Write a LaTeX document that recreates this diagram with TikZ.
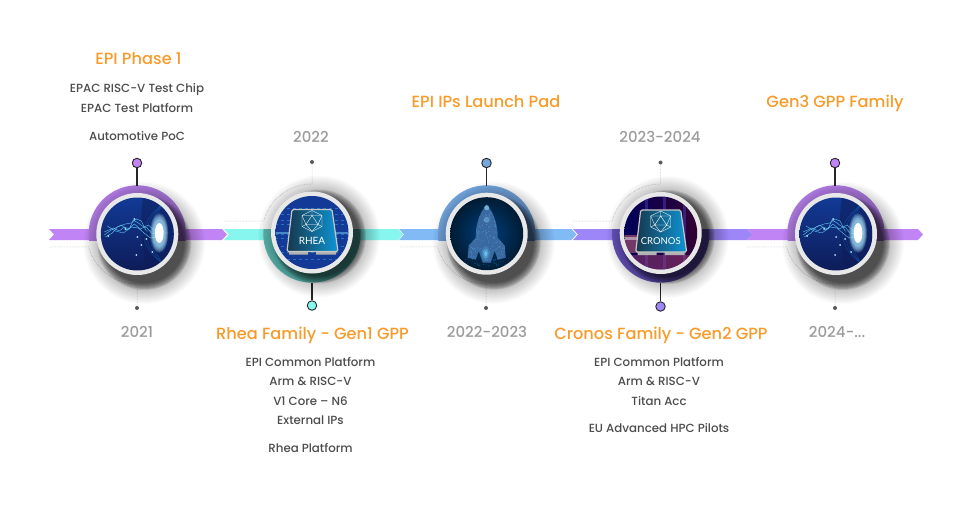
\documentclass[tikz,border=0pt]{standalone}
\usepackage{fontspec}
\setmainfont{Poppins}
\newfontfamily\titlefont{Poppins Medium}
\newfontfamily\chipfont{Lato}
\usepackage{tikz}
\usetikzlibrary{positioning}
\definecolor{Notetitle}{HTML}{F99B2A}
\definecolor{Notebody}{HTML}{4C4C4C}
\definecolor{Noteyear}{HTML}{9C9C9C}
\definecolor{Ribpurple}{HTML}{C184F5}
\definecolor{Ribcyan}{HTML}{86F6EF}
\definecolor{Ribblue}{HTML}{82BAF6}
\definecolor{Ribviolet}{HTML}{9D86F7}
\definecolor{Arcpurple}{HTML}{B27BE6}
\definecolor{Arcteal}{HTML}{62BDB6}
\definecolor{Arcblue}{HTML}{73A8E2}
\definecolor{Arcviolet}{HTML}{6C5BBE}
\definecolor{Chipdark}{HTML}{16384C}
\definecolor{Chipblue}{HTML}{0E95D6}
\definecolor{Wiretop}{HTML}{123A96}
\definecolor{Wiremid}{HTML}{1664D8}
\definecolor{Wirelow}{HTML}{0E1C58}
\tikzstyle{titletext} = [font=\titlefont\fontsize{16.2}{16}\selectfont, text=Notetitle, text height=13pt, text depth=1pt, inner sep=0pt]
\tikzstyle{bodytext} = [font=\titlefont\fontsize{11.8}{12}\selectfont, text=Notebody, text height=11pt, text depth=1.5pt, inner sep=0pt]
\tikzstyle{yeartext} = [font=\titlefont\fontsize{15}{15}\selectfont, text=Noteyear, text height=13pt, text depth=2pt, inner sep=0pt]
\tikzstyle{pindot} = [circle, draw=black!85, line width=0.9pt, minimum size=9.5pt, inner sep=0pt]
\tikzstyle{yeardot} = [circle, fill=black!65, minimum size=4pt, inner sep=0pt]
\tikzstyle{pinline} = [line width=1.1pt, black!85]
\tikzstyle{guide} = [black!30, line width=0.5pt, densely dotted]
\tikzstyle{hubring} = [circle, fill=black!9, minimum size=82pt, inner sep=0pt]
\tikzstyle{spark} = [white!40!cyan, line width=0.45pt, opacity=0.9]
% ribbon piece: from, to, colour
\newcommand{\ribbon}[3]{
    \fill[#3] (#1,229) -- (#2-5,229) -- (#2,234.5) -- (#2-5,240) -- (#1,240) -- (#1+5,234.5) -- cycle;
}
% coloured half disc behind a hub: x, colour, clip band
\newcommand{\hubarc}[4]{
    \begin{scope}
        \clip (#1-60,#3) rectangle (#1+60,#4);
        \fill[#2] (#1,234) circle (48.7);
    \end{scope}
}
% soft shadow of a hub
\newcommand{\hubshadow}[2]{
    \foreach \r in {46,47,...,61} {
        \fill[black, opacity=0.014] (#1,#2) circle (\r);
    }
    \foreach \r in {40,41,...,47} {
        \fill[black, opacity=0.1] (#1,#2) circle (\r);
    }
}
% circuit picture in a hub
\newcommand{\circuitimage}[2]{
    \begin{scope}[shift={(#1,#2)}]
        \clip (0,0) circle (36.5);
        \shade[top color=Wiretop, middle color=Wiremid, bottom color=Wirelow] (-37,-37) rectangle (37,37);
        \fill[Wirelow, opacity=0.5] (6,-37) .. controls (2,-15) and (4,15) .. (10,37) -- (37,37) -- (37,-37) -- cycle;
        \foreach \r in {14,18,22,26} {
            \draw[cyan!60!blue, opacity=0.5, line width=0.3pt] (26,-30) .. controls (26-\r,-12) and (26-\r,12) .. (26,30);
        }
        % lightning
        \draw[spark] (-33,-2) -- (-24,-6) -- (-18,-3) -- (-13,-7) -- (-8,-5) -- (-4,-14) -- (1,-11) -- (5,-8) -- (10,-6) -- (14,-1) -- (20,0);
        \draw[spark] (-32,3) -- (-25,-1) -- (-20,-7) -- (-12,-10) -- (-6,-11) -- (-1,-15) -- (4,-13) -- (9,-3) -- (20,-3);
        \draw[spark] (-30,-8) -- (-22,-3) -- (-14,-1) -- (-6,-7) -- (1,-6) -- (8,0) -- (13,4) -- (20,3);
        \draw[spark] (-33,1) -- (-26,-4) -- (-16,-9) -- (-10,-4) -- (-3,-10) -- (3,-5) -- (11,-9) -- (20,-1);
        \foreach \px/\py in {-12/-5, 0/3, -29/2, 9/5, -1/21, 4/11, -3/-15, 15/18} {
            \fill[cyan!30!white] (\px,\py) circle (1);
        }
        % glow
        \foreach \s in {1.8,1.7,...,1.1} {
            \fill[cyan!35!white, opacity=0.2] (22,-1) circle[x radius=5*\s, y radius=11*\s];
        }
        \fill[white] (22,-1) circle[x radius=4.4, y radius=10];
    \end{scope}
}
% chip card with its icon and label
\newcommand{\chipcard}[3]{
    \begin{scope}[shift={(#1,#2)}]
        \fill[black!30] (-23,18) rectangle (-4,22) (4,18) rectangle (24,22);
        \shade[shading angle=45, left color=Chipdark, right color=Chipblue, rounded corners=1.5pt, draw=black!22, line width=1.2pt]
            (-20,-23) -- (20,-23) -- (26,19) -- (-25,19) -- cycle;
        \draw[white!70, line width=0.35pt] (0,-22) -- (10,-17) -- (10,-6) -- (0,-1) -- (-10,-6) -- (-10,-17) -- cycle;
        \draw[white!70, line width=0.35pt] (0,-17) -- (6,-8) -- (-6,-8) -- cycle
            (0,-22) -- (0,-17) -- (-10,-17) (0,-17) -- (10,-17) (-10,-6) -- (-6,-8) -- (0,-1) -- (6,-8) -- (10,-6)
            (-10,-17) -- (-6,-8) (10,-17) -- (6,-8);
        \node[text=white, inner sep=0pt, font=\chipfont\fontsize{#3}{#3}\selectfont] (chip#1) at (0,8) {\chiplabel};
    \end{scope}
}
\begin{document}
\begin{tikzpicture}[x=1pt, y=-1pt]
    \useasboundingbox[fill=white] (0,0) rectangle (980,511);
    % Guides to the year dots
    \node[yeardot] (dotA) at (137,308) {};
    \node[yeardot] (dotB) at (312,162) {};
    \node[yeardot] (dotC) at (486,308) {};
    \node[yeardot] (dotD) at (660.5,162.5) {};
    \node[yeardot] (dotE) at (835,308) {};
    \draw[guide] (dotA) -- (137,284) arc[start angle=90, end angle=165, radius=50] -- (49,247);
    \draw[guide] (dotB) -- (312,184) arc[start angle=270, end angle=195, radius=50] -- (224,221);
    \draw[guide] (dotC) -- (486,284) arc[start angle=90, end angle=165, radius=50] -- (400,247);
    \draw[guide] (dotD) -- (660.5,184) arc[start angle=270, end angle=195, radius=50] -- (572,221);
    \draw[guide] (dotE) -- (835,284) arc[start angle=90, end angle=165, radius=50] -- (747,247);
    % Ribbon
    \ribbon{399}{576.5}{Ribblue}
    \ribbon{224}{403}{Ribcyan}
    \ribbon{49}{227}{Ribpurple}
    \ribbon{747}{923}{Ribpurple}
    \ribbon{573}{752}{Ribviolet}
    % Half discs
    \hubarc{137.3}{Arcpurple}{180}{240}
    \hubarc{312}{Arcteal}{229}{290}
    \hubarc{486.7}{Arcblue}{180}{240}
    \hubarc{660.7}{Arcviolet}{229}{290}
    \hubarc{836}{Arcpurple}{180}{240}
    % Pins
    \node[pindot, fill=Ribpurple] (pinA) at (137,163) {};
    \node[pindot, fill=Ribcyan] (pinB) at (312,305.5) {};
    \node[pindot, fill=Ribblue!90!black] (pinC) at (486.5,163) {};
    \node[pindot, fill=Ribviolet] (pinD) at (660.5,306.5) {};
    \node[pindot, fill=Ribpurple] (pinE) at (835,163) {};
    \coordinate (capA) at (137,185.5);
    \coordinate (capB) at (312,282.5);
    \coordinate (capC) at (486.5,185.5);
    \coordinate (capD) at (660.5,282.5);
    \coordinate (capE) at (835,185.5);
    \foreach \n in {A,B,C,D,E} {
        \draw[pinline] (pin\n) -- (cap\n);
    }
    % Shadows and rings
    \hubshadow{144.3}{243}
    \hubshadow{319}{236.5}
    \hubshadow{493.7}{242.7}
    \hubshadow{667.7}{237}
    \hubshadow{843}{243}
    \node[hubring] (hubA) at (137.3,234) {};
    \node[hubring] (hubB) at (312,232.5) {};
    \node[hubring] (hubC) at (486.7,233.7) {};
    \node[hubring] (hubD) at (660.7,233) {};
    \node[hubring] (hubE) at (836,234) {};
    % Circuit pictures
    \circuitimage{137.3}{234}
    \circuitimage{836}{234}
    % Rhea picture
    \begin{scope}[shift={(312,232.5)}]
        \clip (0,0) circle (36.5);
        \shade[top color=Wiretop, middle color=Wiremid, bottom color=Wiretop] (-37,-37) rectangle (37,37);
        \foreach \py in {-24,-18,-12,-8,2,6,14,20,27} {
            \draw[cyan!70, opacity=0.4, line width=0.5pt, dashed] (-37,\py) -- (37,\py);
        }
        \fill[cyan!50!white, opacity=0.5] (-37,-1) rectangle (37,1);
    \end{scope}
    \newcommand{\chiplabel}{RHEA}
    \chipcard{312}{232.5}{10}
    % Rocket picture
    \begin{scope}[shift={(486.7,233.7)}]
        \clip (0,0) circle (36.5);
        \shade[inner color=blue!50!cyan!50!black, outer color=blue!40!cyan!12!black] (-46,-46) rectangle (46,46);
        \begin{scope}
            \clip (0,-29) .. controls (-8,-20) and (-11,-8) .. (-11,4) -- (-18,12) -- (-19,24) -- (-11,26) -- (-8,17) -- (-4,29) -- (4,29) -- (8,17) -- (11,26) -- (19,24) -- (18,12) -- (11,4) .. controls (11,-8) and (8,-20) .. (0,-29) -- cycle;
            \fill[cyan!50!blue!75!black] (-20,-30) rectangle (20,30);
            \pgfmathsetseed{7}
            \foreach \i in {1,...,280} {
                \fill[cyan!65!white, opacity=0.7] (rand*19,rand*30) circle (0.35);
            }
        \end{scope}
        \fill[cyan!40!white, opacity=0.6] (0,-26) circle (2.5);
        \fill[cyan!40!white, opacity=0.35] (0,-14) circle (3);
        \foreach \s/\o in {6/0.2, 4/0.35, 2/0.8} {
            \fill[cyan!60!white, opacity=\o] (-1,20) circle[x radius=\s*0.7, y radius=\s*1.2];
        }
        \pgfmathsetseed{11}
        \foreach \i in {1,...,60} {
            \fill[cyan!60!blue, opacity=0.8] (rand*34,29+rand*4) circle (0.4);
        }
    \end{scope}
    % Cronos picture
    \begin{scope}[shift={(660.7,233)}]
        \clip (0,0) circle (36.5);
        \shade[left color=blue!35!black, right color=violet!40!black] (-37,-37) rectangle (37,37);
        \fill[magenta!50!black, opacity=0.8] (-37,2) rectangle (-20,20);
        \foreach \px in {-14,4,24} {
            \fill[blue!60!white, opacity=0.3] (\px-1.5,-37) rectangle (\px+1.5,37);
        }
        \fill[magenta!60!black, opacity=0.5] (-37,22) rectangle (37,37);
        \fill[white, opacity=0.45] (-37,4) rectangle (-22,7);
    \end{scope}
    \renewcommand{\chiplabel}{CRONOS}
    \chipcard{660.7}{233}{9.5}
    % Phase 1 texts
    \node[titletext] (titleA) at (138.5,59) {EPI Phase 1};
    \node[bodytext] (lineAa) at (137,88) {EPAC RISC-V Test Chip};
    \node[bodytext] (lineAb) at (137,107.5) {EPAC Test Platform};
    \node[bodytext] (lineAc) at (137,135.5) {Automotive PoC};
    \node[yeartext] (yearA) at (137,332) {2021};
    % Rhea texts
    \node[yeartext] (yearB) at (311,137) {2022};
    \node[titletext] (titleB) at (312.5,333) {Rhea Family - Gen1 GPP};
    \node[bodytext] (lineBa) at (310.5,362) {EPI Common Platform};
    \node[bodytext] (lineBb) at (310.5,381) {Arm \& RISC-V};
    \node[bodytext] (lineBc) at (310.5,401) {V1 Core – N6};
    \node[bodytext] (lineBd) at (310.5,420) {External IPs};
    \node[bodytext] (lineBe) at (310.5,448) {Rhea Platform};
    % Launch pad texts
    \node[titletext] (titleC) at (486,101) {EPI IPs Launch Pad};
    \node[yeartext] (yearC) at (487,332) {2022-2023};
    % Cronos texts
    \node[yeartext] (yearD) at (660,137) {2023-2024};
    \node[titletext] (titleD) at (661,333) {Cronos Family - Gen2 GPP};
    \node[bodytext] (lineDa) at (659,362) {EPI Common Platform};
    \node[bodytext] (lineDb) at (659,381) {Arm \& RISC-V};
    \node[bodytext] (lineDc) at (659,401) {Titan Acc};
    \node[bodytext] (lineDd) at (659,428) {EU Advanced HPC Pilots};
    % Gen3 texts
    \node[titletext] (titleE) at (835,101) {Gen3 GPP Family};
    \node[yeartext] (yearE) at (837,332) {2024-...};
\end{tikzpicture}
\end{document}
